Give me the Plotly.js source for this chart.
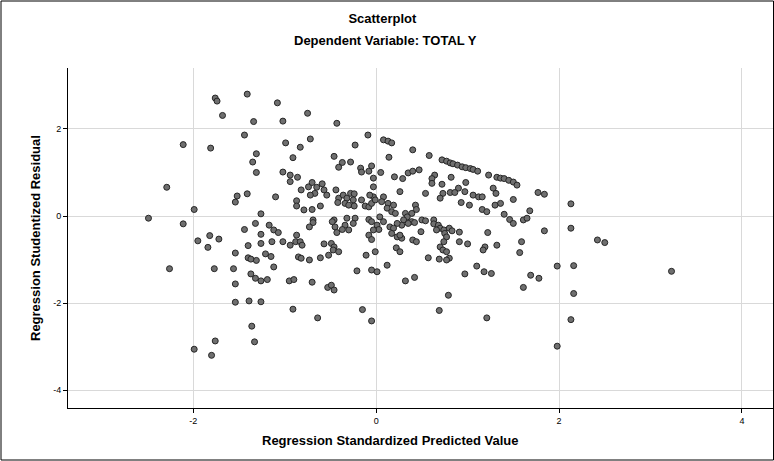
<!DOCTYPE html>
<html>
<head>
<meta charset="utf-8">
<script src="https://cdn.plot.ly/plotly-3.0.1.min.js"></script>
<style>html,body{margin:0;padding:0;background:#fff;}#chart{width:774px;height:461px;}</style>
</head>
<body>
<div id="chart"></div>
<script>
// Regression Standardized Predicted Value (x) and Regression Studentized Residual (y)
const predicted = [
-1.76,-1.74,-1.41,-1.08,-1.68,-1.34,-1.44,-2.11,-1.81,-1.31,-1.35,-1.31,
-0.75,-1.02,-0.43,-0.99,-0.72,-0.83,-0.91,-0.09,-0.23,0.08,0.13,0.17,0.40,0.14,-0.46,-0.37,-0.28,-0.41,-0.17,-0.05,-0.16,-0.08,0.05,-1.02,-0.94,-0.86,-0.03,0.20,0.29,0.35,
0.58,0.72,0.77,0.81,0.84,0.89,0.94,0.98,1.03,1.06,1.11,1.23,1.32,1.36,1.40,0.40,0.47,0.64,0.82,0.61,
1.45,1.50,1.54,1.77,1.84,
0.61,0.72,0.98,0.90,0.97,0.81,0.86,0.73,0.70,0.54,1.06,1.12,1.16,0.93,1.02,1.28,1.31,1.50,1.36,1.30,1.16,1.21,
0.43,0.44,0.39,0.39,0.42,0.50,0.54,0.63,0.63,0.68,0.70,0.66,0.74,0.75,0.80,0.83,0.77,0.74,0.70,0.73,0.77,0.80,0.77,0.69,0.57,0.91,0.91,1.00,1.22,1.19,1.17,1.32,1.40,1.46,1.50,1.61,1.65,1.68,1.59,1.57,1.84,1.10,0.49,0.40,0.44,
2.13,2.13,2.42,2.50,1.98,2.16,3.23,
-2.29,-1.99,-2.49,-2.11,-1.52,-1.54,-1.41,-1.10,-1.26,-1.32,-1.44,-1.17,-1.12,-1.26,-1.14,-1.26,-1.40,-1.95,-1.82,-1.72,-1.84,-1.54,-1.40,-1.31,-1.37,-1.21,-1.15,-2.26,-1.77,-1.56,-1.12,
-1.37,-1.32,-1.26,-1.19,-1.54,-1.54,-1.39,-1.26,-1.36,-1.76,-1.33,-1.99,-1.80,
-0.95,-0.90,-0.70,-0.53,-0.49,-0.46,-0.21,-0.05,0.01,0.32,-0.91,-0.64,-0.15,-0.05,
0.42,0.97,1.18,1.26,1.69,1.78,1.61,0.79,0.69,1.21,
2.16,2.13,1.98,
-0.94,-0.74,-0.70,-0.65,-0.59,-0.57,-0.67,-0.54,-0.72,-0.82,-0.87,-0.87,-0.79,-0.70,-0.61,-0.44,-0.41,-0.36,-0.32,-0.28,-0.24,-0.25,-0.34,-0.30,-0.24,-0.42,-0.16,-0.12,-0.08,-0.05,-0.03,-0.07,-0.01,-0.03,
0.08,0.06,0.13,0.19,0.12,0.17,0.21,0.26,0.32,0.34,0.30,0.35,0.28,0.23,0.04,0.08,0.01,0.03,-0.03,0.15,0.19,0.17,0.23,0.28,0.26,-0.08,-0.05,-0.08,-0.05,
-0.32,-0.23,-0.34,-0.25,-0.30,-0.37,-0.46,-0.45,-0.43,-0.48,-0.69,-0.69,-0.73,-1.07,-1.02,-0.87,-0.88,-0.83,-0.94,-0.81,-0.57,-0.49,-0.46,-0.47,-0.41,-0.85,-0.82,-0.73,-0.61,-0.52,-0.11,-0.01,0.22,0.26,0.12
];
const residual = [
2.71,2.64,2.80,2.60,2.31,2.17,1.86,1.64,1.56,1.43,1.24,1.00,
2.36,2.18,2.13,1.68,1.77,1.58,1.34,1.86,1.63,1.75,1.72,1.68,1.52,1.35,1.37,1.23,1.24,1.12,1.10,1.15,1.01,1.03,1.00,1.01,0.94,0.89,0.87,0.90,0.86,0.99,
1.39,1.29,1.26,1.22,1.20,1.17,1.13,1.11,1.09,1.07,1.03,0.94,0.89,0.87,0.86,1.03,1.06,0.94,0.89,0.86,
0.82,0.78,0.71,0.54,0.50,
0.75,0.73,0.77,0.64,0.56,0.54,0.54,0.52,0.41,0.52,0.48,0.44,0.44,0.31,0.25,0.64,0.52,0.38,0.29,0.25,0.15,0.10,
0.25,0.15,0.06,-0.13,-0.15,-0.09,-0.11,-0.09,-0.18,-0.21,-0.28,-0.32,-0.32,-0.40,-0.28,-0.34,-0.48,-0.59,-0.71,-0.78,-0.82,-0.97,-1.01,-0.99,-0.96,-0.37,-0.59,-0.64,-0.38,-0.71,-0.78,-0.67,0.04,-0.08,-0.17,-0.09,-0.05,0.12,-0.59,-0.84,-0.34,-1.15,-0.36,-0.55,-0.59,
0.28,-0.28,-0.55,-0.61,-1.15,-1.14,-1.27,
0.66,0.15,-0.05,-0.18,0.46,0.32,0.51,0.44,0.05,-0.17,-0.31,-0.21,-0.32,-0.42,-0.59,-0.63,-0.68,-0.57,-0.45,-0.53,-0.72,-0.85,-0.96,-1.02,-0.99,-0.87,-0.93,-1.21,-1.21,-1.21,-1.17,
-1.33,-1.43,-1.49,-1.46,-1.56,-1.98,-1.95,-1.97,-2.53,-2.87,-2.89,-3.06,-3.20,
-1.49,-1.46,-1.52,-1.64,-1.59,-1.70,-1.26,-1.24,-1.28,-1.49,-2.14,-2.34,-2.15,-2.41,
-1.41,-1.33,-1.28,-1.32,-1.36,-1.43,-1.64,-1.82,-2.17,-2.34,
-1.78,-2.38,-2.99,
0.79,0.67,0.77,0.66,0.74,0.60,0.52,0.48,0.48,0.60,0.35,0.23,0.14,0.15,0.23,0.60,0.41,0.48,0.41,0.52,0.51,0.37,0.29,0.25,0.23,0.31,0.37,0.23,0.21,0.29,0.44,0.48,0.37,0.67,
0.44,0.33,0.29,0.25,0.18,0.10,0.06,0.56,0.06,-0.02,-0.09,-0.17,-0.21,-0.17,-0.02,-0.13,-0.21,-0.31,-0.32,-0.25,-0.28,-0.40,-0.48,-0.51,-0.44,-0.08,-0.13,-0.44,-0.54,
-0.05,-0.05,-0.21,-0.17,-0.32,-0.31,-0.09,-0.25,-0.38,-0.13,-0.09,-0.15,-0.25,-0.38,-0.59,-0.44,-0.59,-0.59,-0.67,-0.67,-0.64,-0.63,-0.71,-0.78,-0.82,-0.94,-0.97,-1.01,-0.96,-0.90,-0.90,-0.82,-0.73,-0.82,-1.13
];
const xTicks = [-2, 0, 2, 4];
const yTicks = [-4, -2, 0, 2];

const FONT = 'Liberation Sans, Arial, sans-serif';

const trace = {
  type: 'scatter',
  mode: 'markers',
  x: predicted,
  y: residual,
  marker: {
    size: 6,
    color: '#6f6f6f',
    line: {color: '#262626', width: 1}
  },
  hoverinfo: 'x+y'
};

const layout = {
  width: 774,
  height: 461,
  margin: {l: 68, r: 1, t: 68, b: 53, pad: 0},
  paper_bgcolor: '#ffffff',
  plot_bgcolor: '#ffffff',
  showlegend: false,
  font: {family: FONT, color: '#000000', size: 10},
  title: {
    text: '<b>Scatterplot</b>',
    font: {family: FONT, size: 13, color: '#000000'},
    x: 0.494, xref: 'container', xanchor: 'center',
    y: 1 - 18 / 461, yref: 'container', yanchor: 'middle'
  },
  xaxis: {
    range: [-3.37, 4.34],
    tickvals: xTicks,
    ticktext: xTicks.map(String),
    showgrid: true,
    gridcolor: '#d9d9d9',
    gridwidth: 1,
    zeroline: false,
    showline: true,
    linecolor: '#000000',
    linewidth: 1,
    mirror: false,
    ticks: 'outside',
    ticklen: 4,
    tickcolor: '#000000',
    tickfont: {family: FONT, size: 9, color: '#000000'},
    fixedrange: true
  },
  yaxis: {
    range: [-4.41, 3.40],
    tickvals: yTicks,
    ticktext: yTicks.map(String),
    showgrid: true,
    gridcolor: '#d9d9d9',
    gridwidth: 1,
    zeroline: false,
    showline: true,
    linecolor: '#000000',
    linewidth: 1,
    ticks: 'outside',
    ticklen: 4,
    tickcolor: '#000000',
    tickfont: {family: FONT, size: 9, color: '#000000'},
    fixedrange: true
  },
  annotations: [
    {
      text: '<b>Dependent Variable: TOTAL Y</b>',
      xref: 'paper', yref: 'paper',
      x: (385 - 68) / 705, y: (408 - 40) / 340,
      xanchor: 'center', yanchor: 'middle',
      showarrow: false,
      font: {family: FONT, size: 13, color: '#000000'}
    },
    {
      text: '<b>Regression Standardized Predicted Value</b>',
      xref: 'paper', yref: 'paper',
      x: (390 - 68) / 705, y: (408 - 440) / 340,
      xanchor: 'center', yanchor: 'middle',
      showarrow: false,
      font: {family: FONT, size: 13, color: '#000000'}
    },
    {
      text: '<b>Regression Studentized Residual</b>',
      xref: 'paper', yref: 'paper',
      x: (35 - 68) / 705, y: (408 - 238) / 340,
      xanchor: 'center', yanchor: 'middle',
      textangle: -90,
      showarrow: false,
      font: {family: FONT, size: 13, color: '#000000'}
    }
  ],
  shapes: [
    {
      type: 'rect', xref: 'paper', yref: 'paper',
      x0: -67 / 705, x1: 1 + 0.5 / 705, y0: -52 / 340, y1: 1 + 67 / 340,
      line: {color: '#000000', width: 1}, fillcolor: 'rgba(0,0,0,0)', layer: 'above'
    }
  ]
};

Plotly.newPlot('chart', [trace], layout, {displayModeBar: false, staticPlot: true});
</script>
</body>
</html>
